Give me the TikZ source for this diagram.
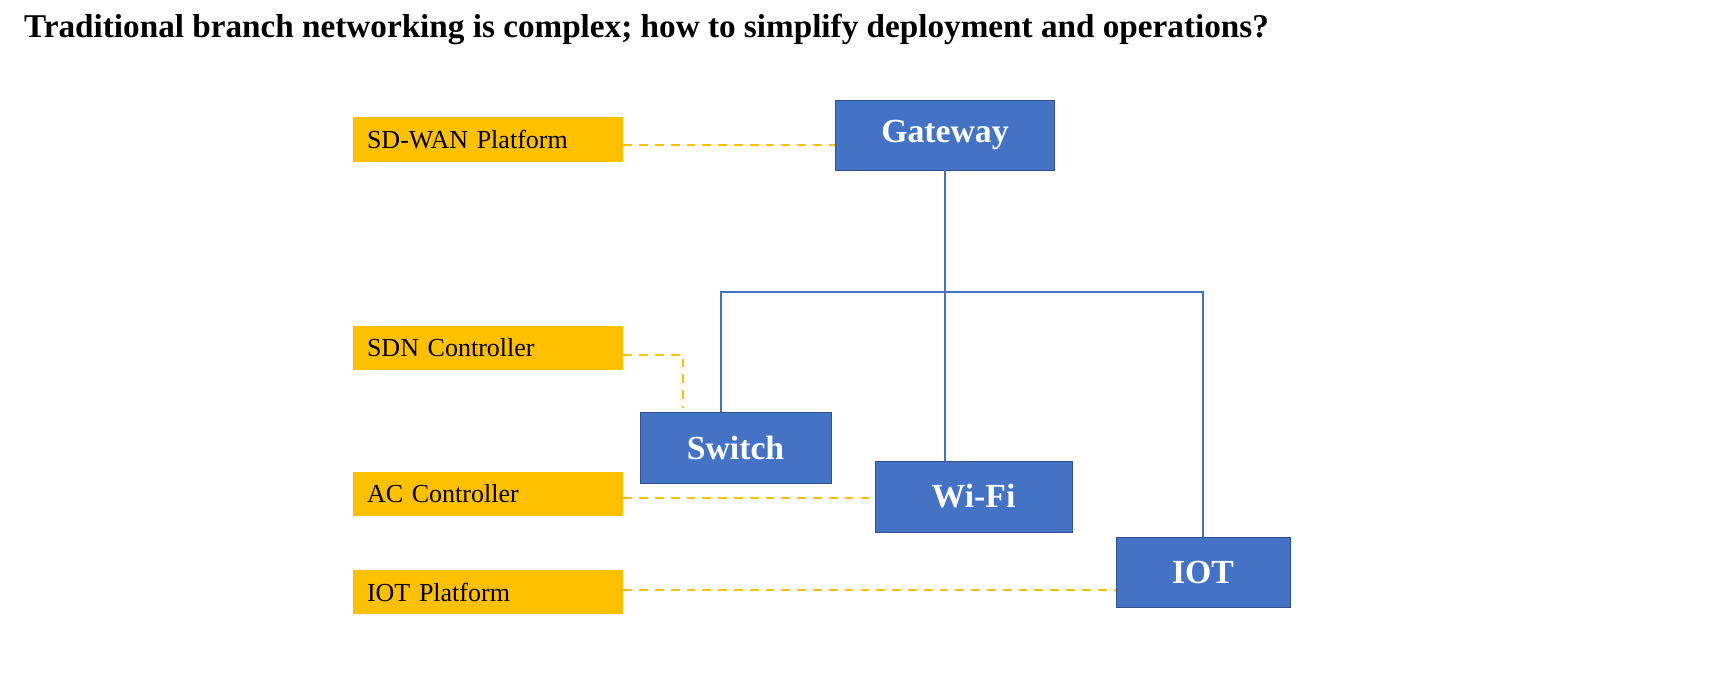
\documentclass[tikz,border=0pt]{standalone}
\usepackage{fontspec}
\setmainfont{Liberation Serif}
\usetikzlibrary{positioning}
\definecolor{gold}{HTML}{FFC000}
\definecolor{boxblue}{HTML}{4472C4}
\definecolor{edgeblue}{HTML}{2F528F}
\tikzset{
  platform/.style={fill=gold, minimum width=5.4cm, minimum height=0.9cm, inner xsep=0.28cm, inner ysep=0pt, text width=4.84cm, align=left, font=\fontsize{14.8}{16}\selectfont},
  device/.style={fill=boxblue, draw=edgeblue, text=white, font=\bfseries\fontsize{19.2}{21}\selectfont, inner sep=0pt},
  link/.style={boxblue, line width=1.2pt},
  mgmt/.style={gold, line width=1.2pt, dash pattern=on 5pt off 4pt}
}
\begin{document}
\begin{tikzpicture}[x=0.02cm, y=-0.02cm]
\useasboundingbox (0,0) rectangle (1726,678);
\node[anchor=base west, font=\bfseries\fontsize{18.9}{21}\selectfont] (title) at (18,38) {Traditional branch networking is complex; how to simplify deployment and operations?};
% platforms
\node[platform] (sdwan) at (488,140) {SD-WAN Platform};
\node[platform] (sdn) at (488,348) {SDN Controller};
\node[platform] (ac) at (488,494) {AC Controller};
\node[platform] (iotp) at (488,592) {IOT Platform};
% devices
\node[device, minimum width=4.38cm, minimum height=1.4cm] (gw) at (945,135) {Gateway};
\node[device, minimum width=3.82cm, minimum height=1.42cm] (sw) at (735.5,447.5) {Switch};
\node[device, minimum width=3.94cm, minimum height=1.42cm] (wifi) at (973.5,496.5) {Wi-Fi};
\node[device, minimum width=3.48cm, minimum height=1.4cm] (iot) at (1203,572) {IOT};
% tree
\coordinate (hub) at (945,292);
\draw[link] (gw.south) -- (hub);
\draw[link] (sw.north -| 721,0) |- (hub) -| (iot.north);
\draw[link] (hub) -- (wifi.north -| hub);
% management links
\draw[mgmt] (sdwan.east |- 0,145) -- (gw.west |- 0,145);
\draw[mgmt] (sdn.east |- 0,355) -| (683,408);
\draw[mgmt] (ac.east |- 0,498) -- (wifi.west |- 0,498);
\draw[mgmt] (iotp.east |- 0,590) -- (iot.west |- 0,590);
\end{tikzpicture}
\end{document}
